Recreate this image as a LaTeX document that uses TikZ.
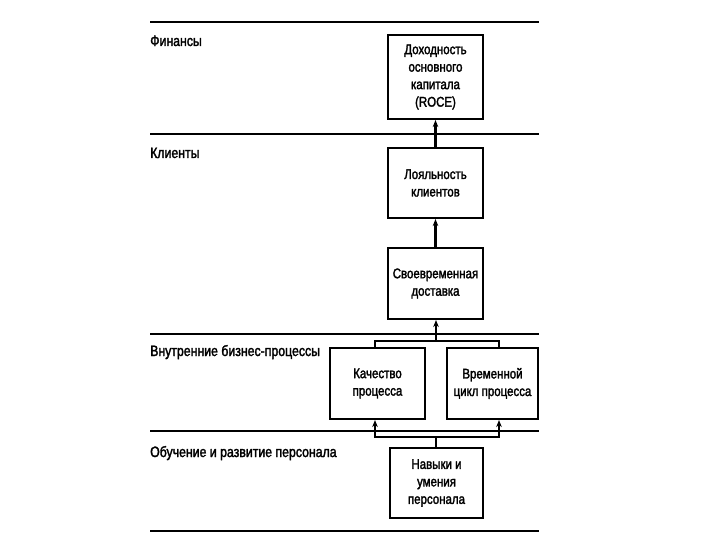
\documentclass[tikz,border=0pt]{standalone}
\usepackage{fontspec}
\setmainfont{Liberation Sans}[FakeStretch=0.82,FakeBold=2]
\usetikzlibrary{arrows.meta}
\begin{document}
\begin{tikzpicture}[x=1pt,y=-1pt,
  rule/.style={line width=2.6pt},
  stagebox/.style={draw,line width=2.1pt,align=center,font=\fontsize{14}{17.5}\selectfont,inner sep=2pt},
  lane/.style={anchor=base west,font=\fontsize{15}{17}\selectfont,inner sep=0pt},
  link/.style={line width=2.1pt},
  arr/.style={line width=2.1pt,-{Stealth[length=7pt,width=5.5pt]}}]
\useasboundingbox (0,0) rectangle (720,540);
% rules
\draw[rule] (150,22) -- (539,22);
\draw[rule] (150,134) -- (539,134);
\draw[rule] (150,334) -- (539,334);
\draw[rule] (150,431) -- (539,431);
\draw[rule] (150,531) -- (539,531);
% lane labels
\node[lane] (l1) at (150,46) {Финансы};
\node[lane] (l2) at (150,158) {Клиенты};
\node[lane] (l3) at (150,356) {Внутренние бизнес-процессы};
\node[lane] (l4) at (150,457) {Обучение и развитие персонала};
% boxes
\node[stagebox,minimum width=95pt,minimum height=84pt] (b1) at (435.5,77) {Доходность\\основного\\капитала\\(ROCE)};
\node[stagebox,minimum width=95pt,minimum height=70pt] (b2) at (435.5,183) {Лояльность\\клиентов};
\node[stagebox,minimum width=95pt,minimum height=71pt] (b3) at (435.5,283.5) {Своевременная\\доставка};
\node[stagebox,minimum width=95pt,minimum height=71pt] (b4) at (377.5,383.5) {Качество\\процесса};
\node[stagebox,minimum width=91pt,minimum height=71pt] (b5) at (492.5,383.5) {Временной\\цикл процесса};
\node[stagebox,minimum width=93pt,minimum height=70pt] (b6) at (436.5,483) {Навыки и\\умения\\персонала};
% connectors
\draw[arr] (b2) -- (b1);
\draw[arr] (b3) -- (b2);
\coordinate (ja) at (375,341);
\coordinate (jb) at (499,341);
\coordinate (jc) at (436,341);
\draw[link] (ja |- b4.north) -- (ja) -- (jb) -- (jb |- b5.north);
\draw[arr] (jc) -- (jc |- b3.south);
\coordinate (ka) at (375,437);
\coordinate (kb) at (499,437);
\coordinate (kc) at (436,437);
\draw[link] (b6.north -| kc) -- (kc);
\draw[arr] (kc) -| (ka |- b4.south);
\draw[arr] (kc) -| (kb |- b5.south);
\end{tikzpicture}
\end{document}
